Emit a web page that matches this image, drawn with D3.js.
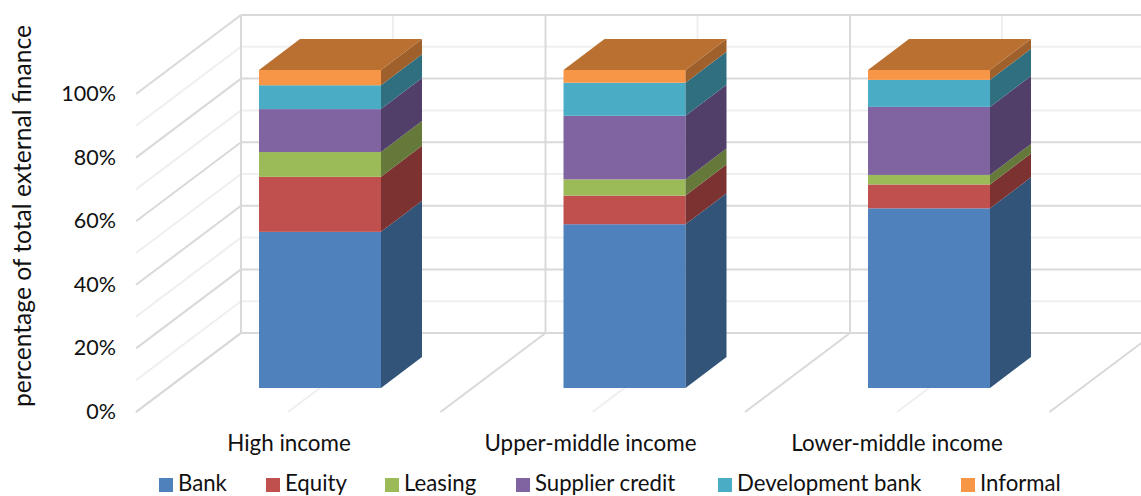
<!DOCTYPE html>
<html><head><meta charset="utf-8">
<script src="https://cdnjs.cloudflare.com/ajax/libs/d3/7.8.5/d3.min.js"></script>
<style>html,body{margin:0;padding:0;background:#fff}svg{display:block}text{font-family:Lato,"Open Sans",sans-serif;fill:#111}</style>
</head><body><svg id="c" width="1141" height="496"></svg>
<script>
const categories = ["High income","Upper-middle income","Lower-middle income"];
const seriesNames = ["Bank","Equity","Leasing","Supplier credit","Development bank","Informal"];
const frontColors = ["#4f81bd","#c0504d","#9bbb59","#8064a2","#4bacc6","#f79646"];
const sideColors  = ["#325479","#7c3230","#64793a","#523f69","#2f6f80","#a0602c"];
const topColor = "#b97031";
const bank = [49.1,51.5,56.5];
const equity = [17.3,9.0,7.5];
const leasing = [7.8,5.1,3.0];
const supplier = [13.5,20.0,21.4];
const development = [7.5,10.4,8.5];
const informal = [4.8,4.0,3.1];
const seriesValues = [bank,equity,leasing,supplier,development,informal];
const yTicks = [0,20,40,60,80,100];
const legendX = [159,266,385,516,718,961];
const labelCenterX = [289,590.5,897];

const svg = d3.select("#c");
const y = d3.scaleLinear().domain([0,100]).range([388,70]);
const dx = 41, dy = 31;       // bar depth projection
const wx = 105, wy = 79;      // wall projection
const back = v => y(v)-55;
const stepX = 304.5;
const barW = 122;
const barL = i => 259 + i*stepX;

const major="#d9d9d9", minor="#efefef";
const g = svg.append("g").attr("fill","none").attr("stroke-width",2);
const seg=(x1,y1,x2,y2,c)=>g.append("line").attr("x1",x1).attr("y1",y1).attr("x2",x2).attr("y2",y2).attr("stroke",c);
// minor gridlines
d3.range(10,100,20).forEach(v=>{
  seg(241,back(v),1141,back(v),minor);
  seg(241,back(v),241-wx,back(v)+wy,minor);
});
categories.forEach((c,i)=>{
  const mx = 393+i*stepX;
  seg(mx,back(100),mx,back(0),minor);
  seg(mx,back(0),mx-wx,back(0)+wy,minor);
});
// major gridlines
yTicks.forEach(v=>{
  seg(241,back(v),1141,back(v),major);
  seg(241,back(v),241-wx,back(v)+wy,major);
});
[0,1,2,3].forEach(i=>{
  const mx = 241+i*stepX;
  seg(mx,back(100),mx,back(0),major);
  seg(mx,back(0),mx-wx,back(0)+wy,major);
});
// bars
categories.forEach((c,i)=>{
  const L = barL(i), R = L+barW;
  let cum = 0;
  seriesValues.forEach((vals,s)=>{
    const y0 = y(cum), y1 = y(cum+vals[i]);
    svg.append("rect").attr("x",L).attr("y",y1).attr("width",barW).attr("height",y0-y1).attr("fill",frontColors[s]);
    svg.append("path").attr("d",d3.line()([[R,y0],[R+dx,y0-dy],[R+dx,y1-dy],[R,y1]])).attr("fill",sideColors[s]);
    cum += vals[i];
  });
  const t = y(cum);
  svg.append("path").attr("d",d3.line()([[L,t],[L+dx,t-dy],[R+dx,t-dy],[R,t]])).attr("fill",topColor);
  svg.append("text").attr("x",labelCenterX[i]).attr("y",451).attr("font-size",22.4).attr("text-anchor","middle").text(c);
});
// y ticks
yTicks.forEach(v=>{
  svg.append("text").attr("x",116).attr("y",y(v)+31).attr("font-size",21.5).attr("text-anchor","end").text(v+"%");
});
svg.append("text").attr("transform","translate(31,216) rotate(-90)").attr("font-size",24.6).attr("text-anchor","middle").text("percentage of total external finance");
// legend
seriesNames.forEach((n,i)=>{
  svg.append("rect").attr("x",legendX[i]).attr("y",478).attr("width",14).attr("height",14).attr("fill",frontColors[i]);
  svg.append("text").attr("x",legendX[i]+19).attr("y",491).attr("font-size",22.2).text(n);
});
</script></body></html>
